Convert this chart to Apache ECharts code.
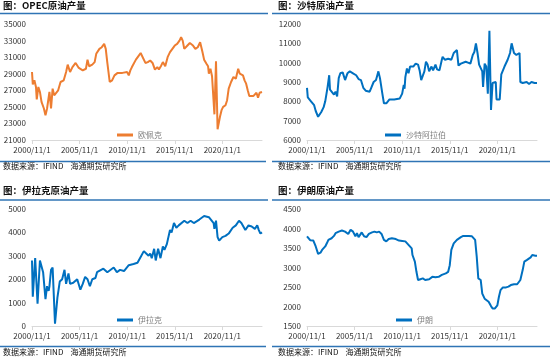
<!DOCTYPE html>
<html><head><meta charset="utf-8">
<script src="https://cdn.jsdelivr.net/npm/echarts@6/dist/echarts.min.js"></script>
<style>html,body{margin:0;padding:0;background:#fff}#c{width:550px;height:360px}</style>
</head><body><div id="c"></div>
<script>
// ---------- DATA (month, value) ----------
const xTickMonths = [0, 60, 120, 180, 240];   // 2000/11/1 ... 2020/11/1
const opecTicks = [21000, 23000, 25000, 27000, 29000, 31000, 33000, 35000];
const saudiTicks = [6000, 7000, 8000, 9000, 10000, 11000, 12000];
const iraqTicks = [0, 1000, 2000, 3000, 4000, 5000];
const iranTicks = [1500, 2000, 2500, 3000, 3500, 4000, 4500];

const opec = [
 ["2000/11",29200],["2000/12",27700],["2001/02",28200],["2001/04",27400],["2001/05",25900],["2001/07",27400],
 ["2001/09",26800],["2001/11",25600],["2002/02",24800],["2002/04",24000],["2002/06",24800],["2002/09",26800],
 ["2002/11",24800],["2003/01",27200],["2003/03",26400],["2003/05",26200],["2003/08",27000],["2003/11",28000],
 ["2004/03",28200],["2004/06",29200],["2004/08",30100],["2004/11",29200],["2005/02",29800],["2005/06",30300],
 ["2005/10",29700],["2006/03",29400],["2006/07",29600],["2006/09",30700],["2006/11",29900],["2007/03",30100],
 ["2007/06",30400],["2007/08",31400],["2007/12",32000],["2008/03",32200],["2008/06",32600],["2008/08",32000],
 ["2008/10",30300],["2009/01",28000],["2009/04",28200],["2009/07",28800],["2009/11",29100],["2010/05",29100],
 ["2010/11",29200],["2011/01",28800],["2011/03",29400],["2011/05",29800],["2011/07",29600],["2011/10",30700],
 ["2012/01",31100],["2012/04",31500],["2012/06",31300],["2012/10",30300],["2013/01",30400],["2013/04",30600],
 ["2013/07",30300],["2013/10",29500],["2014/01",29800],["2014/03",29500],["2014/06",30000],["2014/08",30400],
 ["2014/11",29900],["2015/02",31000],["2015/05",31600],["2015/07",31500],["2015/11",32400],["2016/02",32600],
 ["2016/05",33000],["2016/07",33400],["2016/09",33000],["2016/11",32000],["2017/01",31800],["2017/03",32400],
 ["2017/06",32700],["2017/10",32400],["2018/01",32000],["2018/04",32200],["2018/07",32800],["2018/09",33000],
 ["2018/10",31600],["2018/12",30700],["2019/03",30200],["2019/05",29900],["2019/06",29000],["2019/08",29600],
 ["2019/10",28700],["2020/01",24100],["2020/03",30500],["2020/05",22300],["2020/08",23800],["2020/10",24600],
 ["2020/12",25000],["2021/03",25200],["2021/05",25800],["2021/07",27200],["2021/10",28000],["2022/01",28600],
 ["2022/04",28400],["2022/07",29600],["2022/09",29000],["2023/01",28800],["2023/03",28200],["2023/05",27800],
 ["2023/07",27000],["2023/09",26300],["2024/02",26300],["2024/06",26700],["2024/08",26100],["2024/10",26700],
 ["2025/01",26800]
];

const saudi = [
 ["2000/11",8700],["2000/12",8200],["2001/02",8100],["2001/04",8000],["2001/06",7900],["2001/08",7800],
 ["2001/10",7500],["2002/01",7200],["2002/02",7300],["2002/05",7450],["2002/08",7700],["2002/10",8000],
 ["2003/01",8750],["2003/03",9350],["2003/04",8600],["2003/06",8500],["2003/09",8350],["2003/11",8500],
 ["2004/01",8250],["2004/03",9200],["2004/05",9450],["2004/08",9500],["2004/11",9100],["2005/02",9450],
 ["2005/05",9550],["2005/09",9450],["2006/01",9350],["2006/04",9150],["2006/07",9100],["2006/10",8700],
 ["2007/01",8550],["2007/06",8500],["2007/08",8700],["2007/11",9000],["2008/02",9100],["2008/04",9400],
 ["2008/05",9550],["2008/07",9200],["2008/10",8400],["2008/12",7900],["2009/03",7900],["2009/07",8100],
 ["2010/01",8100],["2010/08",8150],["2010/11",8400],["2011/01",8850],["2011/02",8650],["2011/03",9250],
 ["2011/05",9700],["2011/07",9450],["2011/09",9800],["2012/01",9800],["2012/04",9950],["2012/07",9900],
 ["2012/09",9600],["2012/11",9100],["2013/01",9200],["2013/03",9550],["2013/05",10050],["2013/07",9900],
 ["2013/09",9550],["2013/12",9800],["2014/02",9600],["2014/05",9900],["2014/07",9650],["2014/10",9600],
 ["2015/01",10150],["2015/02",10300],["2015/05",10150],["2015/09",10200],["2016/01",10150],["2016/04",10500],
 ["2016/08",10650],["2016/10",9850],["2017/01",9950],["2017/03",9900],["2017/07",10050],["2017/10",10000],
 ["2018/01",9950],["2018/04",10400],["2018/06",10550],["2018/08",11000],["2018/10",10500],["2018/12",9900],
 ["2019/02",9800],["2019/04",9550],["2019/05",8750],["2019/07",9950],["2019/09",9800],["2019/11",8400],
 ["2020/01",11650],["2020/03",7550],["2020/05",8950],["2020/09",9000],["2020/10",8100],["2021/02",8100],
 ["2021/04",9400],["2021/08",9800],["2021/12",10150],["2022/03",10500],["2022/05",11000],["2022/08",10500],
 ["2022/11",10400],["2023/01",10500],["2023/03",10500],["2023/04",9000],["2023/07",8950],["2023/12",9000],
 ["2024/03",8900],["2024/06",9000],["2024/10",8950],["2025/01",8950]
];

const iraq = [
 ["2000/11",2800],["2000/12",1250],["2001/03",2900],["2001/04",2850],["2001/06",950],["2001/09",2800],
 ["2001/10",2850],["2002/01",2300],["2002/04",1150],["2002/06",1700],["2002/08",1500],["2002/09",1700],
 ["2002/11",2400],["2003/01",2500],["2003/04",100],["2003/07",1200],["2003/10",1900],["2004/01",2000],
 ["2004/04",2400],["2004/06",1800],["2004/09",2250],["2004/11",1800],["2005/03",1850],["2005/08",2000],
 ["2005/12",1550],["2006/03",1800],["2006/06",2100],["2006/09",2000],["2006/12",1700],["2007/03",2000],
 ["2007/07",2050],["2007/09",2300],["2008/05",2450],["2008/10",2300],["2009/06",2500],["2009/10",2300],
 ["2010/02",2400],["2010/07",2350],["2011/01",2600],["2011/07",2650],["2011/12",2700],["2012/04",2950],
 ["2012/08",3200],["2012/11",3100],["2013/02",3000],["2013/04",3100],["2013/06",2900],["2013/09",3300],
 ["2013/11",2800],["2014/02",3300],["2014/05",2900],["2014/08",3400],["2014/10",3250],["2015/01",3500],
 ["2015/05",4100],["2015/07",4000],["2015/10",4400],["2016/01",4200],["2016/04",4300],["2016/11",4500],
 ["2017/03",4400],["2017/07",4500],["2017/11",4400],["2018/06",4550],["2018/12",4700],["2019/06",4650],
 ["2019/08",4700],["2019/12",4400],["2020/01",4150],["2020/03",4500],["2020/05",3800],["2020/07",3650],
 ["2020/11",3800],["2021/03",3850],["2021/07",3950],["2021/12",4200],["2022/04",4300],["2022/08",4500],
 ["2022/11",4400],["2023/04",4100],["2023/08",4300],["2023/12",4250],["2024/04",4150],["2024/07",4300],
 ["2024/09",4100],["2024/11",3950],["2025/01",4000]
];

const iran = [
 ["2000/11",3800],["2001/01",3850],["2001/03",3700],["2001/05",3750],["2001/07",3690],["2001/09",3730],
 ["2001/10",3540],["2002/01",3350],["2002/04",3380],["2002/06",3450],["2002/08",3410],["2002/10",3540],
 ["2002/12",3620],["2003/02",3710],["2003/06",3750],["2003/09",3810],["2003/11",3880],["2004/03",3920],
 ["2004/07",3950],["2004/11",3920],["2005/03",3860],["2005/06",3970],["2005/09",3920],["2005/12",3800],
 ["2006/02",3880],["2006/04",3780],["2006/08",3900],["2006/11",3800],["2007/02",3780],["2007/05",3860],
 ["2007/09",3900],["2007/12",3920],["2008/03",3900],["2008/06",3920],["2008/09",3860],["2008/12",3710],
 ["2009/03",3670],["2009/06",3730],["2009/10",3750],["2010/03",3730],["2010/07",3690],["2010/11",3680],
 ["2011/03",3670],["2011/07",3580],["2011/11",3490],["2011/12",3320],["2012/03",3150],["2012/05",2890],
 ["2012/07",2680],["2012/10",2700],["2013/01",2720],["2013/04",2680],["2013/09",2700],["2014/01",2760],
 ["2014/05",2750],["2014/09",2760],["2015/01",2810],["2015/06",2850],["2015/09",2890],["2015/11",3060],
 ["2016/01",3450],["2016/04",3620],["2016/08",3710],["2017/01",3780],["2017/04",3810],["2017/07",3810],
 ["2017/11",3810],["2018/03",3800],["2018/07",3710],["2018/09",3280],["2018/11",2720],["2019/02",2680],
 ["2019/04",2330],["2019/07",2200],["2019/12",2120],["2020/03",2010],["2020/05",1950],["2020/08",1950],
 ["2020/11",2030],["2021/01",2250],["2021/03",2420],["2021/06",2490],["2021/10",2490],["2022/01",2510],
 ["2022/04",2550],["2022/08",2570],["2022/12",2570],["2023/02",2590],["2023/04",2680],["2023/07",2940],
 ["2023/09",3150],["2023/12",3190],["2024/02",3210],["2024/05",3260],["2024/07",3320],["2024/09",3280],
 ["2024/11",3300],["2025/01",3300]
];

const panelTitles = ["图：OPEC原油产量", "图：沙特原油产量", "图：伊拉克原油产量", "图：伊朗原油产量"];
const seriesNames = ["欧佩克", "沙特阿拉伯", "伊拉克", "伊朗"];
const sourceText = "数据来源：IFIND    海通期货研究所";

// ---------- helpers ----------
const toM = s => { const [y, m] = s.split('/').map(Number); return (y - 2000) * 12 + (m - 11); };
const lab = m => { const y = 2000 + Math.floor((m + 10) / 12); const mo = (m + 10) % 12 + 1; return y + '/' + mo + '/1'; };
const FONT = '"Noto Sans CJK SC", "Noto Sans", sans-serif';
const BLUE = '#2f74b5';

const panels = [
  {data: opec, ticks: opecTicks, color: '#ED7D31', grid: {left: 32, top: 24, width: 230, height: 116}, legend: {left: 117, top: 131}, tx: 0, ty: 0},
  {data: saudi, ticks: saudiTicks, color: '#0070C0', grid: {left: 307, top: 24, width: 230, height: 116}, legend: {left: 385, top: 131}, tx: 275, ty: 0},
  {data: iraq, ticks: iraqTicks, color: '#0070C0', grid: {left: 32, top: 209, width: 230, height: 117}, legend: {left: 117, top: 316}, tx: 0, ty: 185},
  {data: iran, ticks: iranTicks, color: '#0070C0', grid: {left: 307, top: 209, width: 230, height: 117}, legend: {left: 396, top: 316}, tx: 275, ty: 185}
];

const option = {
  animation: false,
  backgroundColor: '#fff',
  textStyle: {fontFamily: FONT},
  grid: panels.map(p => p.grid),
  title: panels.flatMap((p, i) => [
    {text: panelTitles[i], left: p.tx + 3, top: p.ty + 1, padding: 0,
     textStyle: {fontSize: 9.5, fontWeight: 'bold', color: '#111', fontFamily: FONT}},
    {text: sourceText, left: p.tx + 3, top: p.ty + (i < 2 ? 162 : 163), padding: 0,
     textStyle: {fontSize: 8, fontWeight: 'normal', color: '#111', fontFamily: FONT}}
  ]),
  legend: panels.map((p, i) => ({
    data: [seriesNames[i]], left: p.legend.left, top: p.legend.top, padding: 0,
    icon: 'rect', itemWidth: 16, itemHeight: 3, itemGap: 5,
    textStyle: {fontSize: 8, color: '#7f7f7f', fontFamily: FONT}
  })),
  xAxis: panels.map((p, i) => ({
    type: 'value', gridIndex: i, min: 0, max: 290,
    axisLine: {show: true, lineStyle: {color: '#d9d9d9', width: 1}},
    axisTick: {show: true, customValues: xTickMonths, length: 4, lineStyle: {color: '#d9d9d9'}},
    axisLabel: {customValues: xTickMonths, formatter: v => lab(v), fontSize: 8, color: '#333', margin: 6, fontFamily: FONT},
    splitLine: {show: false}
  })),
  yAxis: panels.map((p, i) => ({
    type: 'value', gridIndex: i, min: p.ticks[0], max: p.ticks[p.ticks.length - 1],
    axisLine: {show: false}, axisTick: {show: false},
    axisLabel: {customValues: p.ticks, formatter: v => String(v), fontSize: 8, color: '#333', margin: 6, fontFamily: FONT},
    splitLine: {show: false}
  })),
  series: panels.map((p, i) => ({
    name: seriesNames[i], type: 'line', xAxisIndex: i, yAxisIndex: i,
    data: p.data.map(([d, v]) => [toM(d), v]),
    showSymbol: false, symbol: 'none',
    lineStyle: {color: p.color, width: 2}, itemStyle: {color: p.color}
  })),
  graphic: [
    {type: 'line', shape: {x1: 0, y1: 13.5, x2: 268, y2: 13.5}, style: {stroke: BLUE, lineWidth: 1.5}},
    {type: 'line', shape: {x1: 272, y1: 13.5, x2: 550, y2: 13.5}, style: {stroke: BLUE, lineWidth: 1.5}},
    {type: 'line', shape: {x1: 0, y1: 161.5, x2: 266, y2: 161.5}, style: {stroke: BLUE, lineWidth: 1.5}},
    {type: 'line', shape: {x1: 272, y1: 161.5, x2: 550, y2: 161.5}, style: {stroke: BLUE, lineWidth: 1.5}},
    {type: 'line', shape: {x1: 0, y1: 200, x2: 268, y2: 200}, style: {stroke: BLUE, lineWidth: 1.5}},
    {type: 'line', shape: {x1: 272, y1: 200, x2: 550, y2: 200}, style: {stroke: BLUE, lineWidth: 1.5}},
    {type: 'line', shape: {x1: 0, y1: 346.5, x2: 266, y2: 346.5}, style: {stroke: BLUE, lineWidth: 1.5}},
    {type: 'line', shape: {x1: 272, y1: 346.5, x2: 550, y2: 346.5}, style: {stroke: BLUE, lineWidth: 1.5}}
  ]
};

const chart = echarts.init(document.getElementById('c'), null, {renderer: 'canvas'});
chart.setOption(option);
</script>
</body></html>
